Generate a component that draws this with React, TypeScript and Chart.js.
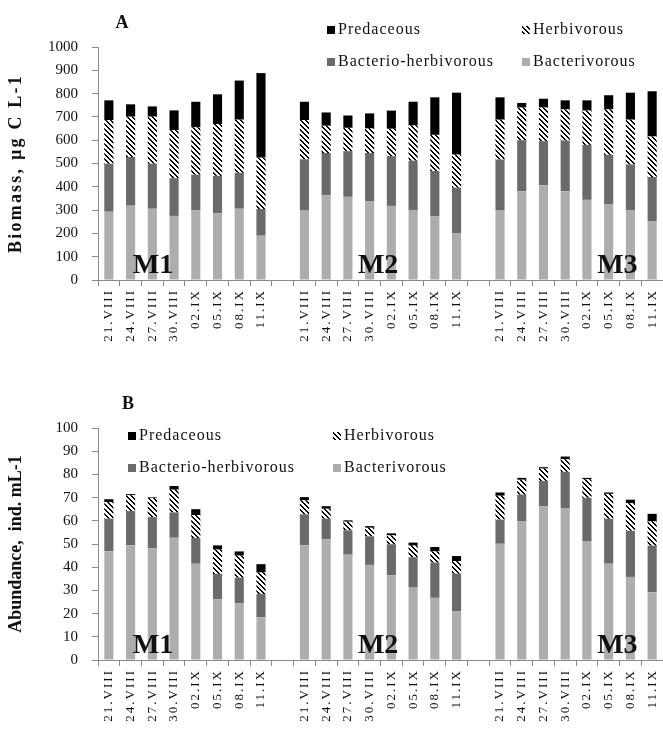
import React, { useEffect, useRef } from "react";
import { Chart, registerables } from "chart.js";

Chart.register(...registerables);

// ---------- data ----------
const dates = ["21.VIII", "24.VIII", "27.VIII", "30.VIII", "02.IX", "05.IX", "08.IX", "11.IX"];
const sites = ["M1", "M2", "M3"];
const legendNames = ["Predaceous", "Herbivorous", "Bacterio-herbivorous", "Bacterivorous"];

// Panel A: Biomass, µg C L-1 (inner arrays: M1, M2, M3)
const biomassBacterivorous = [
  [293, 319, 306, 275, 299, 286, 306, 190],
  [298, 363, 357, 337, 318, 298, 273, 201],
  [298, 381, 407, 381, 344, 324, 298, 253],
];
const biomassBacterioHerbivorous = [
  [206, 209, 193, 162, 153, 161, 154, 115],
  [220, 182, 196, 208, 214, 214, 195, 195],
  [219, 219, 189, 218, 236, 213, 198, 189],
];
const biomassHerbivorous = [
  [187, 173, 202, 206, 203, 222, 228, 220],
  [168, 117, 100, 105, 117, 151, 155, 142],
  [171, 140, 144, 133, 147, 195, 192, 174],
];
const biomassPredaceous = [
  [85, 53, 44, 85, 110, 128, 168, 363],
  [79, 57, 53, 65, 78, 102, 161, 266],
  [96, 20, 38, 39, 44, 61, 116, 194],
];

// Panel B: Abundance, ind. mL-1 (inner arrays: M1, M2, M3)
const abundanceBacterivorous = [
  [46.8, 49.4, 48.1, 52.7, 41.5, 26.1, 24.4, 18.5],
  [49.4, 52.0, 45.4, 41.0, 36.5, 31.2, 26.8, 21.1],
  [50.1, 59.7, 66.2, 65.5, 51.3, 41.5, 35.8, 29.2],
];
const abundanceBacterioHerbivorous = [
  [14.1, 14.8, 13.5, 10.9, 11.1, 11.0, 11.1, 9.9],
  [13.4, 8.9, 10.5, 12.3, 13.4, 13.1, 15.2, 16.1],
  [10.4, 11.6, 11.0, 15.6, 18.6, 19.4, 19.9, 20.1],
];
const abundanceHerbivorous = [
  [7.1, 6.8, 8.2, 9.8, 9.9, 10.5, 9.5, 9.3],
  [6.0, 4.3, 3.7, 3.7, 3.8, 5.0, 4.8, 5.4],
  [10.3, 6.4, 5.3, 5.4, 8.0, 10.7, 11.9, 10.4],
];
const abundancePredaceous = [
  [1.3, 0.5, 0.3, 1.6, 2.5, 1.8, 1.8, 3.6],
  [1.4, 1.1, 0.6, 0.7, 0.9, 1.3, 1.9, 2.2],
  [1.4, 0.8, 0.6, 1.2, 0.6, 0.6, 1.5, 3.3],
];

// ---------- styles ----------
const SERIF = '"Liberation Serif", "Times New Roman", serif';
const TEXT = "#111111";
const AXIS = "#8a8a8a";
const C_PRED = "#000000";
const C_BH = "#6a6a6a";
const C_BAC = "#adadad";

function buildLabels(): string[] {
  const out: string[] = [];
  sites.forEach((_, si) => {
    if (si > 0) out.push("");
    dates.forEach((d) => out.push(d));
  });
  return out;
}

function flatten(groups: number[][]): (number | null)[] {
  const out: (number | null)[] = [];
  groups.forEach((g, gi) => {
    if (gi > 0) out.push(null);
    g.forEach((v) => out.push(v));
  });
  return out;
}

function makeHatch(ctx: CanvasRenderingContext2D): CanvasPattern {
  const n = 5;
  const c = document.createElement("canvas");
  c.width = n;
  c.height = n;
  const cx = c.getContext("2d")!;
  const img = cx.createImageData(n, n);
  for (let y = 0; y < n; y++) {
    for (let x = 0; x < n; x++) {
      const k = (((x - y) % n) + n) % n;
      const v = k < 2 ? 0 : 255;
      const i = (y * n + x) * 4;
      img.data[i] = v;
      img.data[i + 1] = v;
      img.data[i + 2] = v;
      img.data[i + 3] = 255;
    }
  }
  cx.putImageData(img, 0, 0);
  return ctx.createPattern(c, "repeat")!;
}

interface PanelCfg {
  height: number;
  padTop: number;
  xHeight: number;
  yMax: number;
  step: number;
  letter: string;
  letterPos: [number, number];
  yTitle: string;
  yTitleSpacing: number;
  legendCols: number[];
  legendRows: number[];
  groupLabelAt: number[];
  bac: number[][];
  bh: number[][];
  herb: number[][];
  pred: number[][];
}

function makeDecor(cfg: PanelCfg, labels: string[], hatch: CanvasPattern) {
  return {
    id: "decor",
    afterDraw(chart: any) {
      const { ctx, chartArea, scales } = chart;
      const xs = scales.x;
      ctx.save();
      ctx.fillStyle = TEXT;

      // x tick labels (rotated)
      ctx.font = `13px ${SERIF}`;
      (ctx as any).letterSpacing = "2px";
      ctx.textAlign = "right";
      ctx.textBaseline = "middle";
      labels.forEach((lab, i) => {
        if (!lab) return;
        ctx.save();
        ctx.translate(xs.getPixelForValue(i), chartArea.bottom + 9);
        ctx.rotate(-Math.PI / 2);
        ctx.fillText(lab, 0, 0);
        ctx.restore();
      });

      // y title
      ctx.font = `bold 18px ${SERIF}`;
      (ctx as any).letterSpacing = `${cfg.yTitleSpacing}px`;
      ctx.textAlign = "center";
      ctx.textBaseline = "middle";
      ctx.save();
      ctx.translate(16, (chartArea.top + chartArea.bottom) / 2);
      ctx.rotate(-Math.PI / 2);
      ctx.fillText(cfg.yTitle, 0, 0);
      ctx.restore();

      // panel letter
      (ctx as any).letterSpacing = "0px";
      ctx.font = `bold 18px ${SERIF}`;
      ctx.textAlign = "center";
      ctx.textBaseline = "alphabetic";
      ctx.fillText(cfg.letter, cfg.letterPos[0], cfg.letterPos[1]);

      // group labels M1, M2, M3
      ctx.font = `bold 28px ${SERIF}`;
      ctx.textAlign = "center";
      ctx.textBaseline = "alphabetic";
      sites.forEach((s, i) => {
        ctx.fillText(s, xs.getPixelForValue(cfg.groupLabelAt[i]), chartArea.bottom - 7);
      });

      // legend
      const fills: (string | CanvasPattern)[] = [C_PRED, hatch, C_BH, C_BAC];
      ctx.font = `16px ${SERIF}`;
      (ctx as any).letterSpacing = "1px";
      ctx.textAlign = "left";
      ctx.textBaseline = "middle";
      legendNames.forEach((name, i) => {
        const col = i % 2;
        const row = Math.floor(i / 2);
        const x = cfg.legendCols[col];
        const y = cfg.legendRows[row];
        ctx.fillStyle = fills[i];
        ctx.fillRect(x, y - 4, 8, 8);
        ctx.fillStyle = TEXT;
        ctx.fillText(name, x + 11, y);
      });
      ctx.restore();
    },
  };
}

function makeChart(canvas: HTMLCanvasElement, cfg: PanelCfg): Chart {
  const ctx = canvas.getContext("2d")!;
  const hatch = makeHatch(ctx);
  const labels = buildLabels();
  const series = [
    { name: "Bacterivorous", data: cfg.bac, fill: C_BAC as any },
    { name: "Bacterio-herbivorous", data: cfg.bh, fill: C_BH as any },
    { name: "Herbivorous", data: cfg.herb, fill: hatch as any },
    { name: "Predaceous", data: cfg.pred, fill: C_PRED as any },
  ];
  return new Chart(ctx, {
    type: "bar",
    data: {
      labels,
      datasets: series.map((s) => ({
        label: s.name,
        data: flatten(s.data),
        backgroundColor: s.fill,
        borderWidth: 0,
        categoryPercentage: 1,
        barPercentage: 0.42,
        stack: "all",
      })),
    },
    options: {
      responsive: false,
      animation: false,
      devicePixelRatio: 1,
      layout: { padding: { top: cfg.padTop, left: 0, right: 0, bottom: 0 } },
      plugins: {
        legend: { display: false },
        tooltip: { enabled: false },
        title: { display: false },
      },
      scales: {
        x: {
          type: "category",
          stacked: true,
          offset: true,
          grid: {
            display: true,
            drawOnChartArea: false,
            drawTicks: true,
            tickLength: 6,
            color: AXIS,
            offset: true,
          },
          border: { display: true, color: AXIS },
          ticks: { display: false, autoSkip: false },
          afterFit: (s: any) => {
            s.height = cfg.xHeight;
          },
        },
        y: {
          stacked: true,
          min: 0,
          max: cfg.yMax,
          ticks: {
            stepSize: cfg.step,
            font: { family: SERIF, size: 15 },
            color: TEXT,
            padding: 14,
            callback: (v: any) => String(v),
          },
          grid: {
            display: true,
            drawOnChartArea: false,
            drawTicks: true,
            tickLength: 6,
            color: AXIS,
          },
          border: { display: true, color: AXIS },
          afterFit: (s: any) => {
            s.width = 98;
          },
        },
      },
    } as any,
    plugins: [makeDecor(cfg, labels, hatch) as any],
  });
}

const panelA: PanelCfg = {
  height: 370,
  padTop: 47,
  xHeight: 90,
  yMax: 1000,
  step: 100,
  letter: "A",
  letterPos: [122, 28],
  yTitle: "Biomass, µg C L-1",
  yTitleSpacing: 2.2,
  legendCols: [327, 522],
  legendRows: [30, 62],
  groupLabelAt: [2.03, 12.39, 23.4],
  bac: biomassBacterivorous,
  bh: biomassBacterioHerbivorous,
  herb: biomassHerbivorous,
  pred: biomassPredaceous,
};

const panelB: PanelCfg = {
  height: 364,
  padTop: 58,
  xHeight: 74,
  yMax: 100,
  step: 10,
  letter: "B",
  letterPos: [128, 39],
  yTitle: "Abundance,  ind. mL-1",
  yTitleSpacing: 0,
  legendCols: [128, 333],
  legendRows: [66, 98],
  groupLabelAt: [2.03, 12.39, 23.4],
  bac: abundanceBacterivorous,
  bh: abundanceBacterioHerbivorous,
  herb: abundanceHerbivorous,
  pred: abundancePredaceous,
};

export default function App() {
  const refA = useRef<HTMLCanvasElement>(null);
  const refB = useRef<HTMLCanvasElement>(null);

  useEffect(() => {
    const a = makeChart(refA.current!, panelA);
    const b = makeChart(refB.current!, panelB);
    return () => {
      a.destroy();
      b.destroy();
    };
  }, []);

  return (
    <div
      style={{
        position: "absolute",
        left: 0,
        top: 0,
        width: 663,
        height: 734,
        background: "#ffffff",
        overflow: "hidden",
      }}
    >
      <canvas
        ref={refA}
        width={663}
        height={panelA.height}
        style={{ position: "absolute", left: 0, top: 0, width: 663, height: panelA.height }}
      />
      <canvas
        ref={refB}
        width={663}
        height={panelB.height}
        style={{ position: "absolute", left: 0, top: panelA.height, width: 663, height: panelB.height }}
      />
    </div>
  );
}
